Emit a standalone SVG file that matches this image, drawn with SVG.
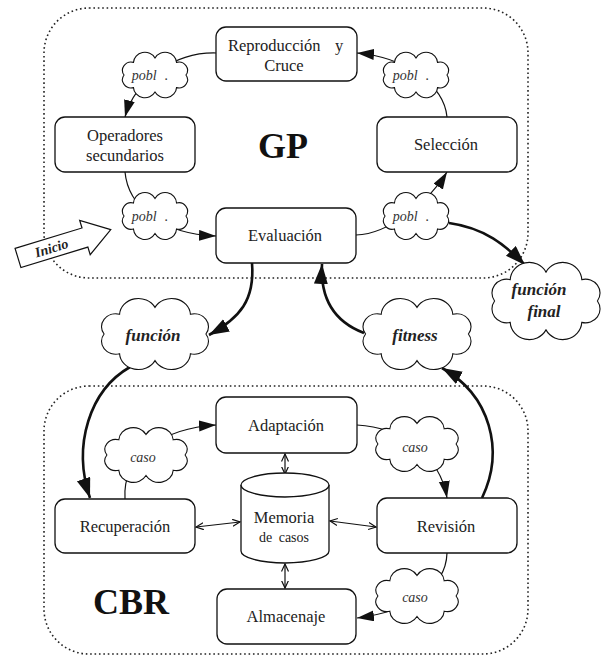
<svg xmlns="http://www.w3.org/2000/svg" xmlns:xlink="http://www.w3.org/1999/xlink" width="602" height="656" viewBox="0 0 602 656">
<style>
.box{fill:#fff;stroke:#111;stroke-width:1.3}
.region{fill:none;stroke:#222;stroke-width:1.6;stroke-dasharray:1.6 2.8}
.lbl{font-family:'Liberation Serif','Times New Roman',serif;font-size:16.5px;fill:#222;text-anchor:middle}
.ci{font-family:'Liberation Serif','Times New Roman',serif;font-size:14px;font-style:italic;fill:#333;text-anchor:middle}
.cb{font-family:'Liberation Serif','Times New Roman',serif;font-size:17px;font-style:italic;font-weight:bold;fill:#222;text-anchor:middle}
.big{font-family:'Liberation Serif','Times New Roman',serif;font-size:36px;font-weight:bold;fill:#111;text-anchor:middle}
.thin{fill:none;stroke:#111;stroke-width:1.2;marker-end:url(#ah)}
.thick{fill:none;stroke:#111;stroke-width:2.6;marker-end:url(#ahb)}
.dbl{fill:none;stroke:#111;stroke-width:1.2;marker-start:url(#oa);marker-end:url(#oa)}
</style>
<defs>
<path id="cloud" d="M0,-27 A17,17 0 0 1 32,-20 A13,13 0 0 1 46,0 A13,13 0 0 1 32,20 A17,17 0 0 1 0,27 A17,17 0 0 1 -32,20 A13,13 0 0 1 -46,0 A13,13 0 0 1 -32,-20 A17,17 0 0 1 0,-27 Z" fill="#fff" stroke="#111" stroke-width="1.1" vector-effect="non-scaling-stroke"/>
<marker id="ah" markerUnits="userSpaceOnUse" markerWidth="18" markerHeight="12" refX="17" refY="5.5" orient="auto"><path d="M0,0 L17,5.5 L0,11 Z" fill="#111"/></marker>
<marker id="ahb" markerUnits="userSpaceOnUse" markerWidth="22" markerHeight="15" refX="20" refY="7" orient="auto"><path d="M0,0 L20,7 L0,14 Z" fill="#111"/></marker>
<marker id="oa" markerUnits="userSpaceOnUse" markerWidth="9" markerHeight="9" refX="7.5" refY="4" orient="auto-start-reverse"><path d="M0,0.5 L7.5,4 L0,7.5" fill="none" stroke="#111" stroke-width="1.2"/></marker>
</defs>

<rect class="region" x="44" y="8" width="484" height="270" rx="45"/>
<rect class="region" x="44" y="386" width="484" height="268" rx="45"/>

<g id="connectors">
<path class="thin" d="M216,53 C175,52 135,80 125,117"/>
<path class="thin" d="M125,172 C128,205 160,234 216,236"/>
<path class="thin" d="M356,235 C390,234 430,200 447,172"/>
<path class="thin" d="M447,117 C444,85 405,57 357,53"/>
<path class="thick" d="M449,223 C485,228 505,245 525,265"/>
<path class="thick" d="M252,263 C255,300 240,318 209,335"/>
<path class="thick" d="M364,333 C335,322 320,300 322,264"/>
<path class="thick" d="M130,367 C90,390 72,445 90,498"/>
<path class="thick" d="M482,498 C505,450 490,395 442,368"/>
<path class="thin" d="M125,499 C122,455 165,428 216,425"/>
<path class="thin" d="M357,425 C400,427 440,455 447,498"/>
<path class="thin" d="M447,553 C446,590 405,612 357,618"/>
<path class="dbl" d="M196,527 L240,522"/>
<path class="dbl" d="M330,521 L376,527"/>
<path class="dbl" d="M285,454 L285,474"/>
<path class="dbl" d="M285,564 L285,588"/>
</g>

<g id="inicio" transform="translate(18,258) rotate(-17)">
<path d="M0,-10 L70,-10 L70,-18 L97,0 L70,18 L70,10 L0,10 Z" fill="#fff" stroke="#111" stroke-width="1.2"/>
<text x="35" y="5" class="cb" style="font-size:14px">Inicio</text>
</g>

<g id="n-repro"><rect class="box" x="216" y="27" width="141" height="54" rx="10"/>
<text class="lbl" x="228" y="51" style="text-anchor:start">Reproducción</text><text class="lbl" x="339" y="51">y</text>
<text class="lbl" x="284" y="71">Cruce</text></g>
<g id="n-oper"><rect class="box" x="55" y="117" width="140" height="55" rx="10"/>
<text class="lbl" x="125" y="141">Operadores</text><text class="lbl" x="125" y="161">secundarios</text></g>
<g id="n-sel"><rect class="box" x="377" y="117" width="140" height="55" rx="10"/>
<text class="lbl" x="446" y="150">Selección</text></g>
<g id="n-eval"><rect class="box" x="216" y="208" width="140" height="55" rx="10"/>
<text class="lbl" x="285" y="241">Evaluación</text></g>
<g id="label-gp"><text class="big" x="283" y="158">GP</text></g>

<g id="c-pobl1"><use xlink:href="#cloud" transform="translate(155,75) scale(0.673,0.63)"/><text class="ci" x="150" y="80">pobl<tspan dx="8">.</tspan></text></g>
<g id="c-pobl2"><use xlink:href="#cloud" transform="translate(416,75) scale(0.673,0.63)"/><text class="ci" x="411" y="80">pobl<tspan dx="8">.</tspan></text></g>
<g id="c-pobl3"><use xlink:href="#cloud" transform="translate(155,216) scale(0.673,0.65)"/><text class="ci" x="150" y="221">pobl<tspan dx="8">.</tspan></text></g>
<g id="c-pobl4"><use xlink:href="#cloud" transform="translate(416,216) scale(0.673,0.65)"/><text class="ci" x="411" y="221">pobl<tspan dx="8">.</tspan></text></g>

<g id="c-final"><use xlink:href="#cloud" transform="translate(546,301) scale(1.118,1.07)"/>
<text class="cb" x="539" y="295">función</text><text class="cb" x="544" y="317">final</text></g>
<g id="c-funcion"><use xlink:href="#cloud" transform="translate(155,334) scale(1.107,0.986)"/>
<text class="cb" x="153" y="341">función</text></g>
<g id="c-fitness"><use xlink:href="#cloud" transform="translate(417,334) scale(1.118,0.986)"/>
<text class="cb" x="415" y="341">fitness</text></g>

<g id="n-adapt"><rect class="box" x="216" y="397" width="141" height="56" rx="10"/>
<text class="lbl" x="286" y="431">Adaptación</text></g>
<g id="n-mem">
<path d="M241,485 L241,551 A44,12 0 0 0 329,551 L329,485" fill="#fff" stroke="#111" stroke-width="1.3"/>
<ellipse cx="285" cy="485" rx="44" ry="12" fill="#fff" stroke="#111" stroke-width="1.3"/>
<text class="lbl" x="284" y="523">Memoria</text>
<text class="lbl" x="284" y="542" style="font-size:14px;word-spacing:3px">de casos</text></g>
<g id="n-recup"><rect class="box" x="55" y="499" width="140" height="54" rx="10"/>
<text class="lbl" x="125" y="532">Recuperación</text></g>
<g id="n-rev"><rect class="box" x="377" y="498" width="140" height="55" rx="10"/>
<text class="lbl" x="446" y="532">Revisión</text></g>
<g id="n-almac"><rect class="box" x="217" y="589" width="139" height="55" rx="10"/>
<text class="lbl" x="286" y="622">Almacenaje</text></g>
<g id="label-cbr"><text class="big" x="131" y="614">CBR</text></g>

<g id="c-caso1"><use xlink:href="#cloud" transform="translate(146,455) scale(0.85,0.76)"/><text class="ci" x="143" y="462">caso</text></g>
<g id="c-caso2"><use xlink:href="#cloud" transform="translate(417,444) scale(0.85,0.76)"/><text class="ci" x="415" y="452">caso</text></g>
<g id="c-caso3"><use xlink:href="#cloud" transform="translate(417,596) scale(0.85,0.76)"/><text class="ci" x="415" y="602">caso</text></g>
</svg>
